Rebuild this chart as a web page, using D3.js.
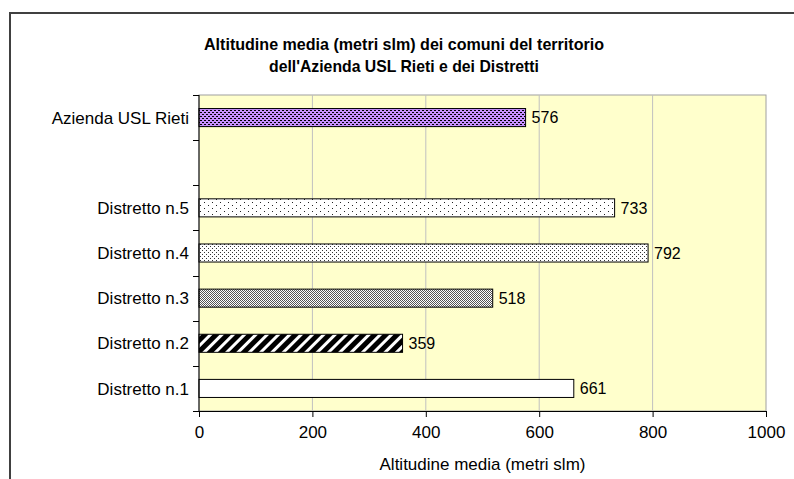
<!DOCTYPE html>
<html>
<head>
<meta charset="utf-8">
<script src="https://cdn.jsdelivr.net/npm/d3@7"></script>
<style>
  body { margin: 0; background: #fff; }
  svg text { font-family: "Liberation Sans", Arial, sans-serif; fill: #000; }
</style>
</head>
<body>
<div id="chart"></div>
<script>
// Data (bottom to top)
const categories = ["Distretto n.1", "Distretto n.2", "Distretto n.3", "Distretto n.4", "Distretto n.5", "", "Azienda USL Rieti"];
const values = [661, 359, 518, 792, 733, null, 576];
const patterns = ["solid-white", "stripes", "grey50", "dots20", "dots10", null, "purple"];
const xTicks = [0, 200, 400, 600, 800, 1000];
const titleLines = ["Altitudine media (metri slm) dei comuni del territorio", "dell'Azienda USL Rieti e dei Distretti"];
const xTitle = "Altitudine media (metri slm)";

const W = 794, H = 479;
const plot = {left: 199, right: 766, top: 95, bottom: 411};

const svg = d3.select("#chart").append("svg")
    .attr("width", W)
    .attr("height", H);

// Fill patterns, Excel style
const defs = svg.append("defs");

function pattern(id, w, h) {
    return defs.append("pattern")
        .attr("id", id)
        .attr("patternUnits", "userSpaceOnUse")
        .attr("width", w)
        .attr("height", h);
}

let p = pattern("solid-white", 4, 4);
p.append("rect").attr("width", 4).attr("height", 4).attr("fill", "#fff");

p = pattern("stripes", 8, 8).attr("patternTransform", "rotate(45)");
p.append("rect").attr("width", 8).attr("height", 8).attr("fill", "#000");
p.append("rect").attr("x", 0).attr("width", 3).attr("height", 8).attr("fill", "#fff");

p = pattern("grey50", 2, 2);
p.append("rect").attr("width", 2).attr("height", 2).attr("fill", "#fff");
p.append("rect").attr("x", 0).attr("y", 0).attr("width", 1).attr("height", 1).attr("fill", "#555");
p.append("rect").attr("x", 1).attr("y", 1).attr("width", 1).attr("height", 1).attr("fill", "#555");

p = pattern("dots20", 4, 4);
p.append("rect").attr("width", 4).attr("height", 4).attr("fill", "#fff");
p.append("rect").attr("x", 0).attr("y", 0).attr("width", 1).attr("height", 1).attr("fill", "#333");
p.append("rect").attr("x", 2).attr("y", 2).attr("width", 1).attr("height", 1).attr("fill", "#333");

p = pattern("dots10", 8, 6);
p.append("rect").attr("width", 8).attr("height", 6).attr("fill", "#fff");
p.append("rect").attr("x", 0).attr("y", 1).attr("width", 1).attr("height", 1).attr("fill", "#222");
p.append("rect").attr("x", 4).attr("y", 4).attr("width", 1).attr("height", 1).attr("fill", "#222");

p = pattern("purple", 4, 4);
p.append("rect").attr("width", 4).attr("height", 4).attr("fill", "#c890ff");
p.append("rect").attr("x", 0).attr("y", 0).attr("width", 2).attr("height", 1).attr("fill", "#000");
p.append("rect").attr("x", 2).attr("y", 2).attr("width", 2).attr("height", 1).attr("fill", "#000");

// Outer chart frame (runs off the right and bottom edges)
svg.append("rect")
    .attr("x", 10)
    .attr("y", 13)
    .attr("width", 820)
    .attr("height", 520)
    .attr("fill", "#fff")
    .attr("stroke", "#404040")
    .attr("stroke-width", 2);

// Title, condensed bold
const titleWidths = [400, 270];
svg.append("g")
    .selectAll("text")
    .data(titleLines)
    .enter()
    .append("text")
    .attr("x", 404)
    .attr("y", (d, i) => 50 + i * 22)
    .attr("text-anchor", "middle")
    .attr("textLength", (d, i) => titleWidths[i])
    .attr("lengthAdjust", "spacingAndGlyphs")
    .style("font-family", "'Liberation Sans Narrow', 'Arial Narrow', 'Liberation Sans', sans-serif")
    .style("font-weight", "bold")
    .style("font-size", "17px")
    .text(d => d);

// Scales
const x = d3.scaleLinear()
    .domain([0, 1000])
    .range([plot.left, plot.right]);

const y = d3.scaleBand()
    .domain(d3.range(categories.length).reverse())
    .range([plot.top, plot.bottom])
    .paddingInner(0.6)
    .paddingOuter(0.3);

// Plot background
svg.append("rect")
    .attr("x", plot.left)
    .attr("y", plot.top)
    .attr("width", plot.right - plot.left)
    .attr("height", plot.bottom - plot.top)
    .attr("fill", "#ffffcc")
    .attr("stroke", "#a0a0a0")
    .attr("stroke-width", 1);

// Gridlines
svg.append("g")
    .selectAll("line")
    .data(xTicks.filter(d => d > 0 && d < 1000))
    .enter()
    .append("line")
    .attr("x1", d => x(d))
    .attr("x2", d => x(d))
    .attr("y1", plot.top)
    .attr("y2", plot.bottom)
    .attr("stroke", "#c0c0c0")
    .attr("stroke-width", 1);

// Bars
const rows = categories.map((c, i) => ({cat: c, value: values[i], fill: patterns[i], i: i}))
    .filter(d => d.value != null);

svg.append("g")
    .selectAll("rect")
    .data(rows)
    .enter()
    .append("rect")
    .attr("x", x(0))
    .attr("y", d => y(d.i))
    .attr("width", d => x(d.value) - x(0))
    .attr("height", y.bandwidth())
    .attr("fill", d => `url(#${d.fill})`)
    .attr("stroke", "#000")
    .attr("stroke-width", 1);

// Value labels
svg.append("g")
    .selectAll("text")
    .data(rows)
    .enter()
    .append("text")
    .attr("x", d => x(d.value) + 6)
    .attr("y", d => y(d.i) + y.bandwidth() / 2)
    .attr("dy", "0.36em")
    .style("font-size", "16px")
    .text(d => d.value);

// X axis
const xAxis = svg.append("g")
    .attr("transform", `translate(0, ${plot.bottom})`)
    .call(d3.axisBottom(x).tickValues(xTicks).tickFormat(d3.format("d")).tickSize(6).tickPadding(9));
xAxis.select(".domain").attr("stroke", "#000");
xAxis.selectAll("text").style("font-size", "17px").style("font-family", "'Liberation Sans', Arial, sans-serif");

// Y axis: ticks between categories
const step = y.step();
const boundaries = d3.range(categories.length + 1).map(k => plot.top + k * step);
svg.append("line")
    .attr("x1", plot.left)
    .attr("x2", plot.left)
    .attr("y1", plot.top)
    .attr("y2", plot.bottom)
    .attr("stroke", "#000");
svg.append("g")
    .selectAll("line")
    .data(boundaries)
    .enter()
    .append("line")
    .attr("x1", plot.left - 6)
    .attr("x2", plot.left)
    .attr("y1", d => Math.round(d) + 0.5)
    .attr("y2", d => Math.round(d) + 0.5)
    .attr("stroke", "#000");

svg.append("g")
    .selectAll("text")
    .data(rows)
    .enter()
    .append("text")
    .attr("x", plot.left - 10)
    .attr("y", d => y(d.i) + y.bandwidth() / 2)
    .attr("dy", "0.36em")
    .attr("text-anchor", "end")
    .style("font-size", "17px")
    .text(d => d.cat);

// X axis title
svg.append("text")
    .attr("x", (plot.left + plot.right) / 2)
    .attr("y", 470)
    .attr("text-anchor", "middle")
    .style("font-size", "17px")
    .text(xTitle);
</script>
</body>
</html>
